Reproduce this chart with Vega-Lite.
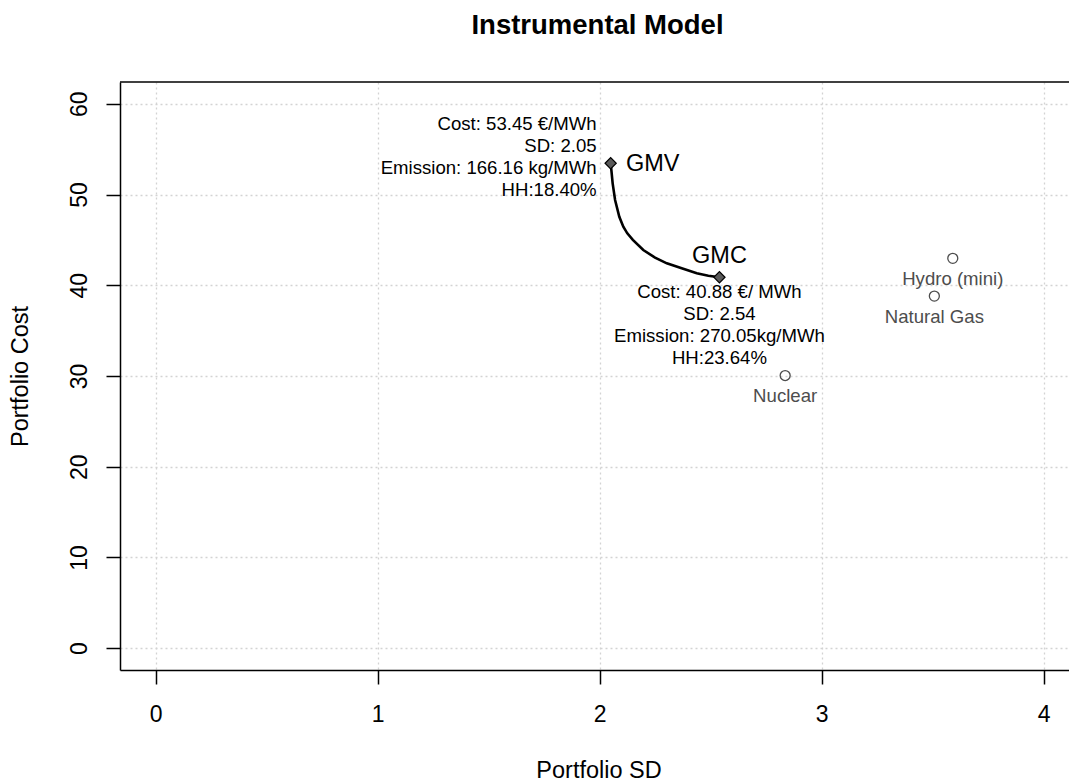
{
  "$schema": "https://vega.github.io/schema/vega-lite/v6.json",
  "width": 949,
  "height": 588,
  "autosize": "none",
  "padding": {"left": 120, "top": 82, "right": 0, "bottom": 110},
  "background": "white",
  "config": {"view": {"stroke": null}, "font": "Liberation Sans"},
  "title": {
    "text": "Instrumental Model",
    "font": "Liberation Sans",
    "fontSize": 27.5,
    "fontWeight": "bold",
    "color": "black",
    "anchor": "middle",
    "frame": "group",
    "baseline": "alphabetic",
    "offset": 20,
    "dx": 3
  },
  "datasets": {
    "frontier": [
      {"step": 1, "sd": 2.05, "cost": 53.45},
      {"step": 2, "sd": 2.054, "cost": 52.5},
      {"step": 3, "sd": 2.059, "cost": 51.23},
      {"step": 4, "sd": 2.07, "cost": 49.39},
      {"step": 5, "sd": 2.089, "cost": 47.55},
      {"step": 6, "sd": 2.107, "cost": 46.45},
      {"step": 7, "sd": 2.125, "cost": 45.72},
      {"step": 8, "sd": 2.15, "cost": 45.0},
      {"step": 9, "sd": 2.197, "cost": 43.88},
      {"step": 10, "sd": 2.25, "cost": 43.05},
      {"step": 11, "sd": 2.303, "cost": 42.42},
      {"step": 12, "sd": 2.37, "cost": 41.87},
      {"step": 13, "sd": 2.438, "cost": 41.32},
      {"step": 14, "sd": 2.49, "cost": 41.05},
      {"step": 15, "sd": 2.54, "cost": 40.88}
    ],
    "gmv": [
      {"name": "GMV", "sd": 2.05, "cost": 53.45, "info": ["Cost: 53.45 €/MWh", "SD: 2.05", "Emission: 166.16 kg/MWh", "HH:18.40%"]}
    ],
    "gmc": [
      {"name": "GMC", "sd": 2.54, "cost": 40.88, "info": ["Cost: 40.88 €/ MWh", "SD: 2.54", "Emission: 270.05kg/MWh", "HH:23.64%"]}
    ],
    "tech": [
      {"name": "Hydro (mini)", "sd": 3.591, "cost": 42.97},
      {"name": "Natural Gas", "sd": 3.508, "cost": 38.81},
      {"name": "Nuclear", "sd": 2.836, "cost": 30.05}
    ]
  },
  "layer": [
    {
      "data": {"name": "frontier"},
      "mark": {"type": "line", "color": "black", "strokeWidth": 2.6},
      "encoding": {
        "x": {
          "field": "sd", "type": "quantitative",
          "scale": {"domain": [-0.16, 4.1145], "nice": false, "zero": false},
          "axis": {
            "values": [0, 1, 2, 3, 4],
            "format": "d",
            "title": "Portfolio SD",
            "labelFont": "Liberation Sans", "labelFontSize": 23, "labelColor": "black",
            "labelBaseline": "alphabetic", "labelPadding": 37, "labelAlign": "center",
            "tickColor": "black", "tickSize": 14, "tickWidth": 1.5,
            "domainColor": "black", "domainWidth": 1.5,
            "grid": true, "gridColor": "#d3d3d3", "gridDash": [2, 3], "gridWidth": 1.3,
            "titleFont": "Liberation Sans", "titleFontSize": 23.5, "titleFontWeight": "normal", "titleColor": "black",
            "titleX": 478.5, "titleY": 107, "titleBaseline": "alphabetic", "titleAlign": "center", "titleAnchor": null
          }
        },
        "y": {
          "field": "cost", "type": "quantitative",
          "scale": {"domain": [-2.4, 62.4], "nice": false, "zero": false},
          "axis": {
            "values": [0, 10, 20, 30, 40, 50, 60],
            "format": "d",
            "title": "Portfolio Cost",
            "labelFont": "Liberation Sans", "labelFontSize": 23, "labelColor": "black",
            "labelAngle": 270, "labelAlign": "center", "labelBaseline": "alphabetic", "labelPadding": 19.3,
            "tickColor": "black", "tickSize": 14, "tickWidth": 1.5,
            "domainColor": "black", "domainWidth": 1.5,
            "grid": true, "gridColor": "#d3d3d3", "gridDash": [2, 3], "gridWidth": 1.3,
            "titleFont": "Liberation Sans", "titleFontSize": 23.5, "titleFontWeight": "normal", "titleColor": "black",
            "titleAngle": 270, "titleX": -92.7, "titleY": 294, "titleBaseline": "alphabetic", "titleAlign": "center", "titleAnchor": null
          }
        },
        "order": {"field": "step", "type": "quantitative"}
      }
    },
    {
      "data": {"values": [{}]},
      "mark": {"type": "rule", "color": "black", "strokeWidth": 1.5},
      "encoding": {"y": {"datum": 62.4, "type": "quantitative"}}
    },
    {
      "data": {"name": "tech"},
      "mark": {"type": "point", "shape": "circle", "filled": false, "color": "#4d4d4d", "size": 100, "strokeWidth": 1.3, "opacity": 1},
      "encoding": {
        "x": {"field": "sd", "type": "quantitative"},
        "y": {"field": "cost", "type": "quantitative"}
      }
    },
    {
      "data": {"name": "tech"},
      "mark": {"type": "text", "align": "center", "baseline": "alphabetic", "dy": 26.5, "fontSize": 18.6, "font": "Liberation Sans", "color": "#4d4d4d"},
      "encoding": {
        "x": {"field": "sd", "type": "quantitative"},
        "y": {"field": "cost", "type": "quantitative"},
        "text": {"field": "name"}
      }
    },
    {
      "data": {"name": "gmv"},
      "mark": {"type": "text", "align": "right", "baseline": "alphabetic", "dx": -14, "dy": -33.7, "lineHeight": 22, "fontSize": 18.6, "font": "Liberation Sans", "color": "black"},
      "encoding": {
        "x": {"field": "sd", "type": "quantitative"},
        "y": {"field": "cost", "type": "quantitative"},
        "text": {"field": "info"}
      }
    },
    {
      "data": {"name": "gmv"},
      "mark": {"type": "text", "align": "left", "baseline": "alphabetic", "dx": 15.3, "dy": 8, "fontSize": 23.5, "font": "Liberation Sans", "color": "black"},
      "encoding": {
        "x": {"field": "sd", "type": "quantitative"},
        "y": {"field": "cost", "type": "quantitative"},
        "text": {"field": "name"}
      }
    },
    {
      "data": {"name": "gmc"},
      "mark": {"type": "text", "align": "center", "baseline": "alphabetic", "dy": 20.6, "lineHeight": 22.2, "fontSize": 18.6, "font": "Liberation Sans", "color": "black"},
      "encoding": {
        "x": {"field": "sd", "type": "quantitative"},
        "y": {"field": "cost", "type": "quantitative"},
        "text": {"field": "info"}
      }
    },
    {
      "data": {"name": "gmc"},
      "mark": {"type": "text", "align": "center", "baseline": "alphabetic", "dy": -14.4, "fontSize": 23.5, "font": "Liberation Sans", "color": "black"},
      "encoding": {
        "x": {"field": "sd", "type": "quantitative"},
        "y": {"field": "cost", "type": "quantitative"},
        "text": {"field": "name"}
      }
    },
    {
      "data": {"name": "gmv"},
      "mark": {"type": "point", "shape": "diamond", "filled": true, "fill": "#5a5a5a", "stroke": "black", "strokeWidth": 1.2, "size": 125, "opacity": 1},
      "encoding": {
        "x": {"field": "sd", "type": "quantitative"},
        "y": {"field": "cost", "type": "quantitative"}
      }
    },
    {
      "data": {"name": "gmc"},
      "mark": {"type": "point", "shape": "diamond", "filled": true, "fill": "#5a5a5a", "stroke": "black", "strokeWidth": 1.2, "size": 125, "opacity": 1},
      "encoding": {
        "x": {"field": "sd", "type": "quantitative"},
        "y": {"field": "cost", "type": "quantitative"}
      }
    }
  ]
}
